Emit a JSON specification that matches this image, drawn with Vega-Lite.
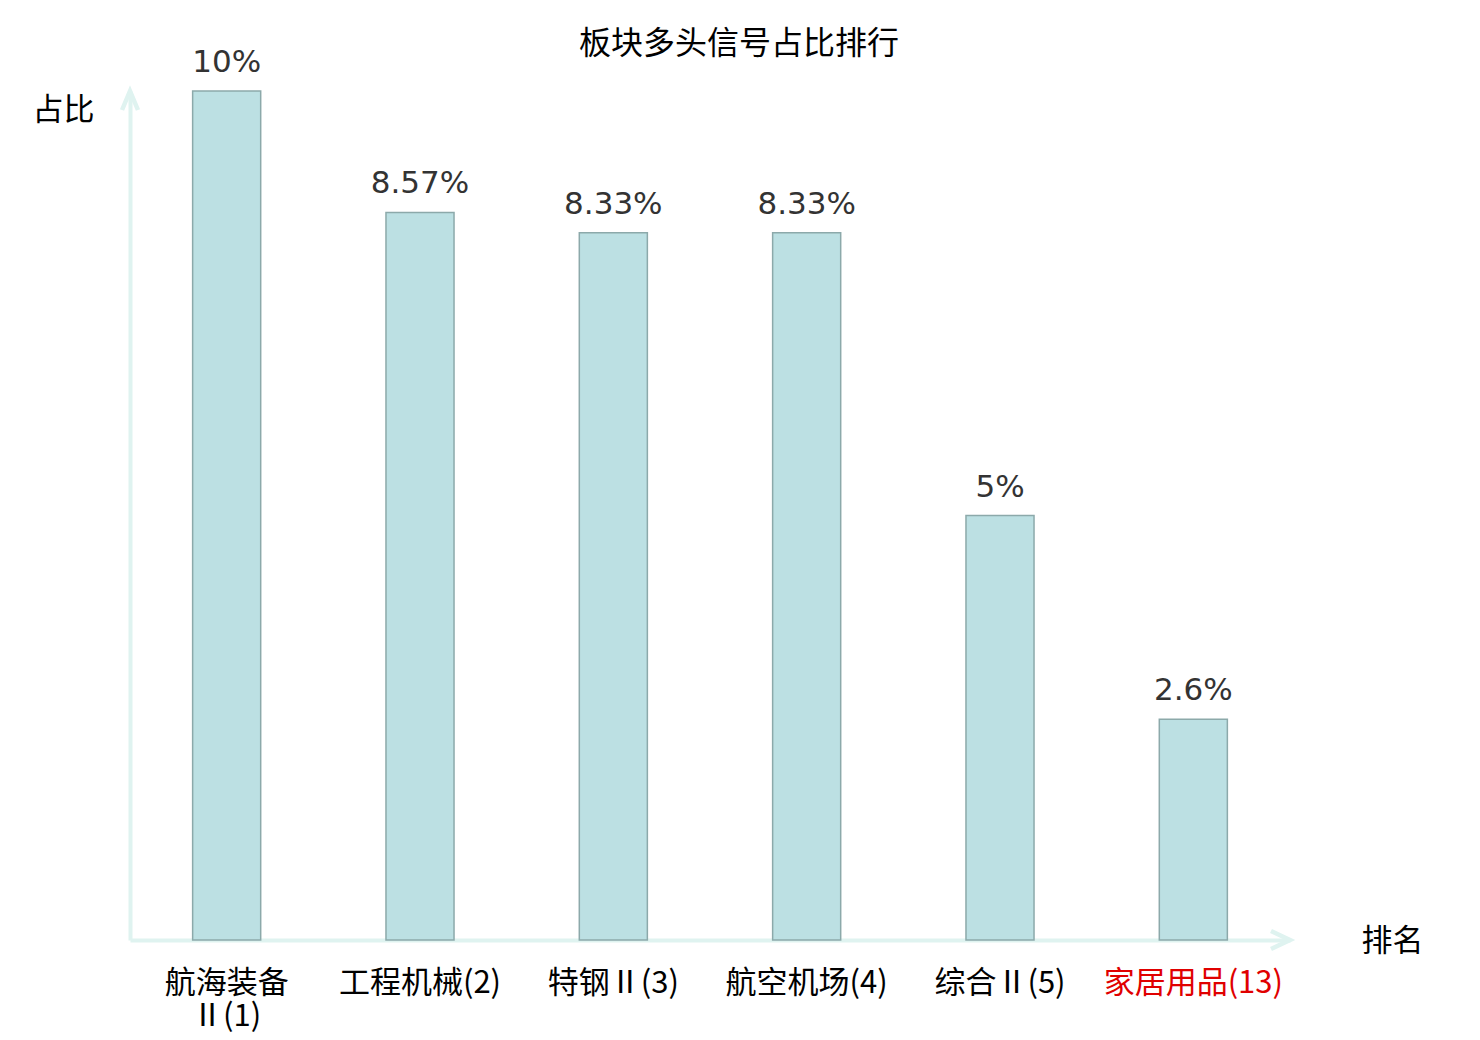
{
  "$schema": "https://vega.github.io/schema/vega-lite/v6.json",
  "autosize": {"type": "none"},
  "padding": {"left": 130, "top": 91, "right": 190, "bottom": 100},
  "width": 1160,
  "height": 849,
  "background": "white",
  "title": {
    "text": "板块多头信号占比排行",
    "font": "Noto Sans CJK SC",
    "fontSize": 32,
    "fontWeight": "normal",
    "color": "#000000",
    "anchor": "middle",
    "frame": "group",
    "dx": 29,
    "dy": 14,
    "offset": 0
  },
  "config": {
    "view": {"stroke": null},
    "axis": {"grid": false, "ticks": false}
  },
  "datasets": {
    "sectors": [
      {"sector": "航海装备Ⅱ(1)", "share": 0.1},
      {"sector": "工程机械(2)", "share": 0.0857},
      {"sector": "特钢Ⅱ(3)", "share": 0.0833},
      {"sector": "航空机场(4)", "share": 0.0833},
      {"sector": "综合Ⅱ(5)", "share": 0.05},
      {"sector": "家居用品(13)", "share": 0.026}
    ],
    "arrows": [
      {"axis": "y", "share": 0.1},
      {"axis": "x", "share": 0}
    ]
  },
  "layer": [
    {
      "data": {"name": "sectors"},
      "mark": {"type": "bar", "fill": "#bce0e3", "stroke": "#8ca9aa", "strokeWidth": 1.5},
      "encoding": {
        "x": {
          "field": "sector",
          "type": "nominal",
          "sort": null,
          "scale": {"paddingInner": 0.648, "paddingOuter": 0.324},
          "axis": {
            "title": "排名",
            "titleFont": "Noto Sans CJK SC",
            "titleFontSize": 31,
            "titleFontWeight": "normal",
            "titleColor": "#000000",
            "titleAngle": 0,
            "titleAlign": "center",
            "titleBaseline": "middle",
            "titleX": 1262,
            "titleY": 1,
            "labelAngle": 0,
            "labelFont": "Noto Sans CJK SC",
            "labelFontSize": 31,
            "labelColor": {
              "condition": {"test": "datum.value == '家居用品(13)'", "value": "#e00000"},
              "value": "#000000"
            },
            "labelBaseline": "top",
            "labelPadding": 28,
            "labelLineHeight": 33,
            "labelOverlap": false,
            "labelBound": false,
            "labelLimit": 0,
            "labelExpr": "datum.value == '航海装备Ⅱ(1)' ? ['航海装备', 'Ⅱ(1)'] : datum.value",
            "domainColor": "#dff3f0",
            "domainWidth": 4
          }
        },
        "y": {
          "field": "share",
          "type": "quantitative",
          "scale": {"domain": [0, 0.1]},
          "axis": {
            "title": "占比",
            "titleFont": "Noto Sans CJK SC",
            "titleFontSize": 31,
            "titleFontWeight": "normal",
            "titleColor": "#000000",
            "titleAngle": 0,
            "titleAlign": "center",
            "titleBaseline": "middle",
            "titleX": -67,
            "titleY": 19,
            "labels": false,
            "domainColor": "#dff3f0",
            "domainWidth": 4
          }
        }
      }
    },
    {
      "data": {"name": "sectors"},
      "mark": {
        "type": "text",
        "font": "DejaVu Sans",
        "fontSize": 31,
        "color": "#333333",
        "baseline": "alphabetic",
        "dy": -19
      },
      "encoding": {
        "x": {"field": "sector", "type": "nominal", "sort": null},
        "y": {"field": "share", "type": "quantitative"},
        "text": {"field": "share", "type": "quantitative", "format": ".3~%"}
      }
    },
    {
      "data": {"name": "arrows"},
      "transform": [{"filter": "datum.axis == 'y'"}],
      "mark": {
        "type": "point",
        "shape": "M-0.42,1L0,0L0.42,1",
        "size": 1444,
        "filled": false,
        "color": "#dff3f0",
        "strokeWidth": 4.5,
        "opacity": 1
      },
      "encoding": {
        "x": {"value": 0},
        "y": {"field": "share", "type": "quantitative"}
      }
    },
    {
      "data": {"name": "arrows"},
      "transform": [{"filter": "datum.axis == 'x'"}],
      "mark": {
        "type": "point",
        "shape": "M-1,-0.47L0,0L-1,0.47",
        "size": 1444,
        "filled": false,
        "color": "#dff3f0",
        "strokeWidth": 4.5,
        "opacity": 1
      },
      "encoding": {
        "x": {"value": "width"},
        "y": {"field": "share", "type": "quantitative"}
      }
    }
  ]
}
